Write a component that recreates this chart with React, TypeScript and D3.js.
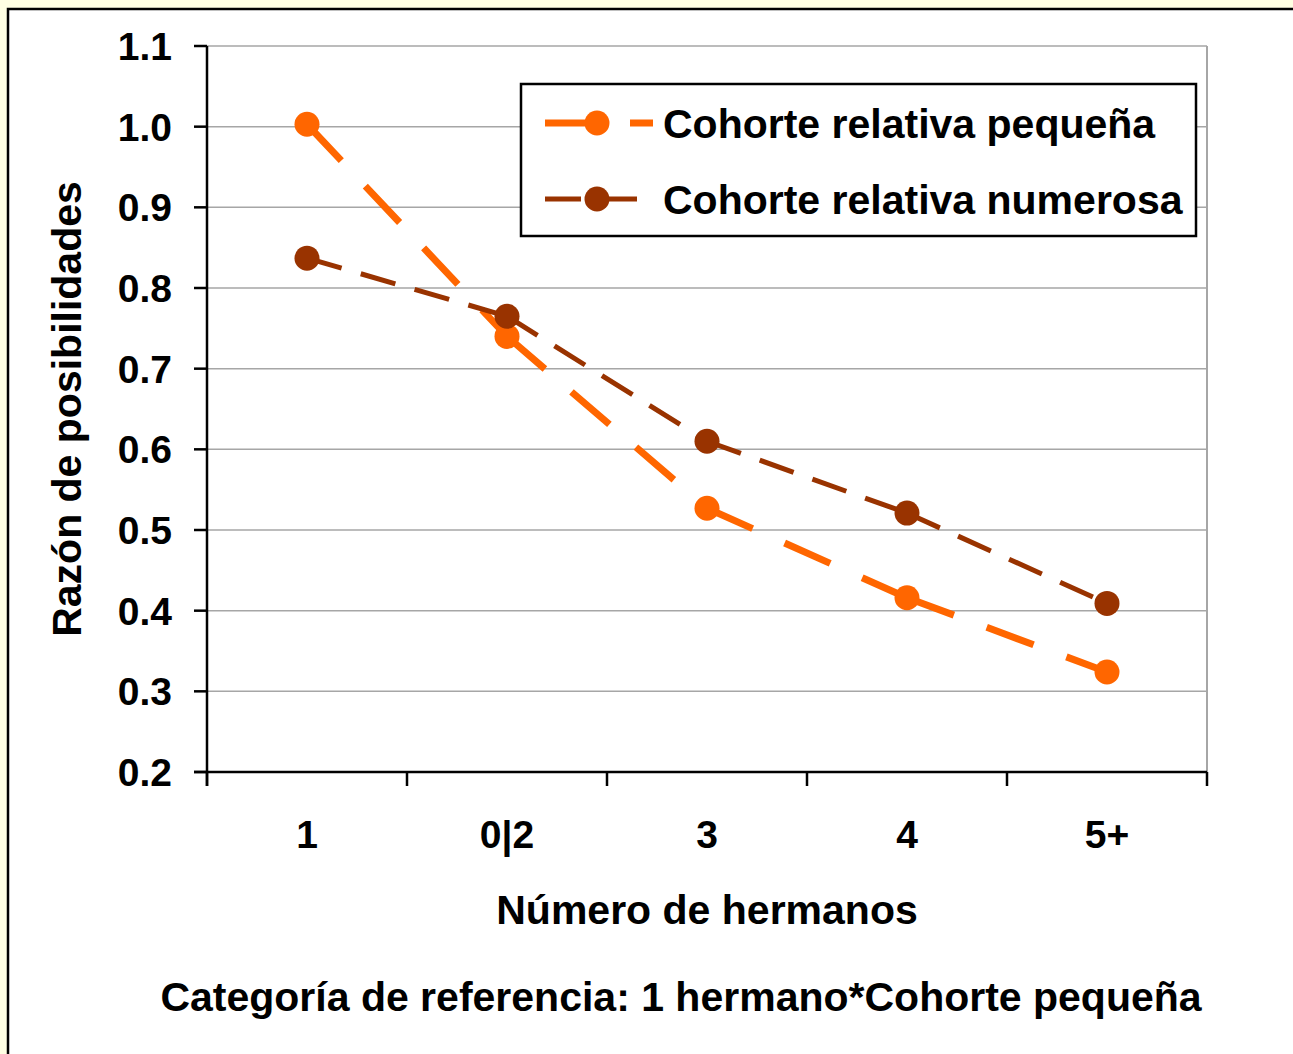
import * as d3 from 'd3';

const categories = ['1', '0|2', '3', '4', '5+'];
const smallCohort = [1.003, 0.74, 0.527, 0.416, 0.324];
const largeCohort = [0.837, 0.765, 0.61, 0.521, 0.409];
const yTicks = [0.2, 0.3, 0.4, 0.5, 0.6, 0.7, 0.8, 0.9, 1.0, 1.1];

const W = 1293;
const H = 1054;
const PLOT = { left: 207, right: 1207, top: 46, bottom: 772 };
const FONT = 'Arial, "Liberation Sans", Helvetica, sans-serif';

const SERIES = [
  { name: 'Cohorte relativa pequeña', values: smallCohort, color: '#ff6600', width: 7, dash: '50 35', r: 12.5 },
  { name: 'Cohorte relativa numerosa', values: largeCohort, color: '#993300', width: 5, dash: '36 20', r: 12.5 },
];

export default function App() {
  const x = d3.scaleBand<string>().domain(categories).range([PLOT.left, PLOT.right]).padding(0);
  const y = d3.scaleLinear().domain([0.2, 1.1]).range([PLOT.bottom, PLOT.top]);
  const cx = (c: string) => (x(c) ?? 0) + x.bandwidth() / 2;
  const boundaries = categories.map(c => x(c) ?? 0).concat([PLOT.right]);

  return (
    <div style={{ position: 'fixed', left: 0, top: 0 }}>
      <svg width={W} height={H} style={{ display: 'block' }} fontFamily={FONT} fontWeight="bold">
        <rect x={0} y={0} width={W} height={H} fill="#ffffe3" />
        <rect x={8} y={9} width={W + 20} height={H + 20} fill="#fff" stroke="#000" strokeWidth={2.5} />

        {/* gridlines */}
        {yTicks.slice(1).map(t => (
          <line key={t} x1={PLOT.left} x2={PLOT.right} y1={y(t)} y2={y(t)} stroke="#a6a6a6" strokeWidth={1.5} />
        ))}
        <line x1={PLOT.right} x2={PLOT.right} y1={PLOT.top} y2={PLOT.bottom} stroke="#a6a6a6" strokeWidth={2} />

        {/* axes */}
        <line x1={PLOT.left} x2={PLOT.left} y1={PLOT.top} y2={PLOT.bottom + 14} stroke="#000" strokeWidth={2.5} />
        <line x1={PLOT.left - 13} x2={PLOT.right} y1={PLOT.bottom} y2={PLOT.bottom} stroke="#000" strokeWidth={2.5} />
        {yTicks.map(t => (
          <g key={t}>
            <line x1={PLOT.left - 13} x2={PLOT.left} y1={y(t)} y2={y(t)} stroke="#000" strokeWidth={2.5} />
            <text x={172} y={y(t)} dy="0.36em" textAnchor="end" fontSize={39}>{t.toFixed(1)}</text>
          </g>
        ))}
        {boundaries.map(b => (
          <line key={b} x1={b} x2={b} y1={PLOT.bottom} y2={PLOT.bottom + 14} stroke="#000" strokeWidth={2.5} />
        ))}
        {categories.map(c => (
          <text key={c} x={cx(c)} y={848} textAnchor="middle" fontSize={39}>{c}</text>
        ))}

        {/* series */}
        {SERIES.map(s => (
          <g key={s.name}>
            {s.values.slice(1).map((v, i) => (
              <line
                key={i}
                x1={cx(categories[i])}
                y1={y(s.values[i])}
                x2={cx(categories[i + 1])}
                y2={y(v)}
                stroke={s.color}
                strokeWidth={s.width}
                strokeDasharray={s.dash}
              />
            ))}
            {s.values.map((v, i) => (
              <circle key={i} cx={cx(categories[i])} cy={y(v)} r={s.r} fill={s.color} />
            ))}
          </g>
        ))}

        {/* legend */}
        <rect x={521} y={84} width={675} height={152} fill="#fff" stroke="#000" strokeWidth={2.5} />
        {SERIES.map((s, i) => {
          const ly = 123 + i * 76;
          return (
            <g key={s.name}>
              <line x1={545} x2={i === 0 ? 653 : 637} y1={ly} y2={ly} stroke={s.color} strokeWidth={s.width} strokeDasharray={s.dash} />
              <circle cx={597} cy={ly} r={s.r} fill={s.color} />
              <text x={663} y={ly} dy="0.36em" fontSize={41}>{s.name}</text>
            </g>
          );
        })}

        {/* titles */}
        <text transform={`translate(81,${(PLOT.top + PLOT.bottom) / 2}) rotate(-90)`} textAnchor="middle" fontSize={41}>
          Razón de posibilidades
        </text>
        <text x={(PLOT.left + PLOT.right) / 2} y={924} textAnchor="middle" fontSize={41}>Número de hermanos</text>
        <text x={681} y={1011} textAnchor="middle" fontSize={41}>Categoría de referencia: 1 hermano*Cohorte pequeña</text>
      </svg>
    </div>
  );
}
